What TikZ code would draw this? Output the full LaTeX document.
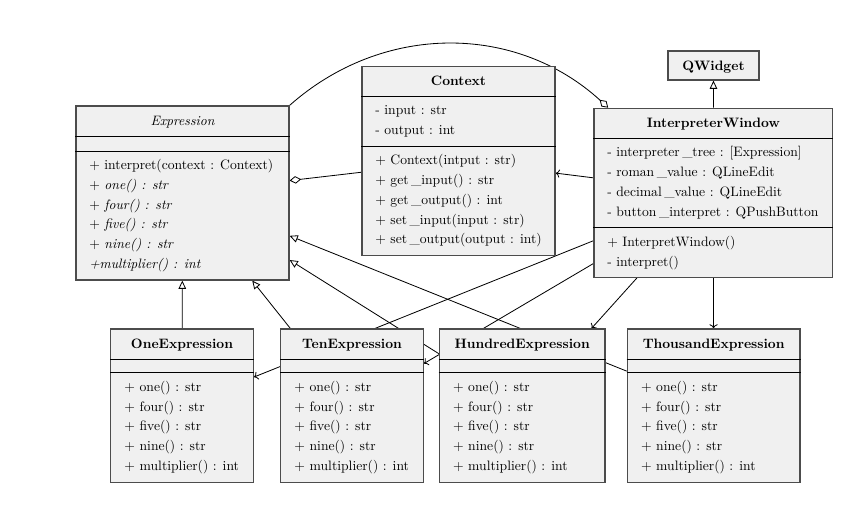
\documentclass[tikz,border=0pt]{standalone}
\usepackage{fontspec}
\usetikzlibrary{arrows.meta,fit,backgrounds}

% underscore in member names, set a little apart
\newcommand{\usc}{\kern.18em\_}
% class box: name, top-left x/y, bottom-right x/y
\newcommand{\umlbox}[5]{%
  \coordinate (#1-nw) at (#2,#3);
  \coordinate (#1-se) at (#4,#5);
  \node[classbox, fit=(#1-nw)(#1-se)] (#1) {};}
% horizontal compartment rule across a class box
\newcommand{\umlrule}[2]{\draw[divider] (#1.west |- 0,#2) -- (#1.east |- 0,#2);}
% stacked member lines: name prefix, x, first baseline, list
\newcommand{\umllines}[4]{%
  \foreach \umltext [count=\k] in {#4}
    {\node[member] (#1-\k) at (#2,{#3+(\k-1)*19.8}) {\umltext};}}

\begin{document}
\begin{tikzpicture}[x=0.7326pt, y=-0.7326pt,
  classbox/.style={draw=black!70, line width=0.9pt, fill=black!6, inner sep=0pt},
  divider/.style={draw=black, line width=0.6pt},
  member/.style={anchor=base west, inner sep=0pt},
  title/.style={anchor=base, inner sep=0pt, font=\bfseries},
  link/.style={draw=black, line width=0.6pt},
  inherit/.style={link, -{Triangle[open,length=6pt,width=5.5pt]}},
  aggregate/.style={link, -{Diamond[open,length=8.5pt,width=5.5pt]}},
  assoc/.style={link, -{To[length=3pt,width=6pt]}}]

\useasboundingbox (0,0) rectangle (857,507);

% ---------- Expression (abstract)
\umlbox{expr}{76}{106}{289}{280}
\umlrule{expr}{136}
\umlrule{expr}{151}
\node[title, font=\itshape] (expr-title) at (182.5,125.5) {Expression};
\umllines{expr-m}{89}{169.5}{+ interpret(context : Context), + \textit{one() : str}, + \textit{four() : str}, + \textit{five() : str}, + \textit{nine() : str}, \textit{+multiplier() : int}}

% ---------- Context
\umlbox{ctx}{362}{66.5}{555}{255.5}
\umlrule{ctx}{96}
\umlrule{ctx}{146}
\node[title] (ctx-title) at (458.5,85.6) {Context};
\umllines{ctx-a}{375}{114.8}{- input : str, - output : int}
\umllines{ctx-m}{375}{164.8}{+ Context(intput : str), + get\usc input() : str, + get\usc output() : int, + set\usc input(input : str), + set\usc output(output : int)}

% ---------- QWidget
\umlbox{qwidget}{668}{51}{759}{80}
\node[title] (qwidget-title) at (713.5,70.2) {QWidget};

% ---------- InterpreterWindow
\umlbox{iw}{594}{108.3}{832.7}{277.3}
\umlrule{iw}{138.3}
\umlrule{iw}{227.7}
\node[title] (iw-title) at (713.4,128) {InterpreterWindow};
\umllines{iw-a}{607}{157}{- interpreter\usc tree : [Expression], - roman\usc value : QLineEdit, - decimal\usc value : QLineEdit, - button\usc interpret : QPushButton}
\umllines{iw-m}{607}{246.4}{+ InterpretWindow(), - interpret()}

% ---------- concrete expressions
\foreach \cls/\xa/\xb/\label in {one/110.7/253.3/OneExpression, ten/280.7/423.3/TenExpression, hundred/439.3/605/HundredExpression, thousand/627.3/800/ThousandExpression}{
  \umlbox{\cls}{\xa}{329}{\xb}{482.7}
  \umlrule{\cls}{359.3}
  \umlrule{\cls}{372.7}
  \node[title] (\cls-title) at ({(\xa+\xb)/2},348.9) {\label};
  \umllines{\cls-m}{\xa+13.5}{391.4}{+ one() : str, + four() : str, + five() : str, + nine() : str, + multiplier() : int}
}

% ---------- relations, kept behind the boxes
\begin{scope}[on background layer]
  \draw[inherit] (one) -- (expr);
  \draw[inherit] (ten) -- (expr);
  \draw[inherit] (hundred) -- (expr);
  \draw[inherit] (thousand) -- (expr);
  \draw[inherit] (iw) -- (qwidget);
  \draw[aggregate] (ctx) -- (expr);
  \draw[aggregate] (expr.north east) to[bend left=42] (iw.141);
  \draw[assoc] (iw) -- (ctx);
  \draw[assoc] (iw) -- (one);
  \draw[assoc] (iw) -- (ten);
  \draw[assoc] (iw) -- (hundred);
  \draw[assoc] (iw) -- (thousand);
\end{scope}
\end{tikzpicture}
\end{document}
